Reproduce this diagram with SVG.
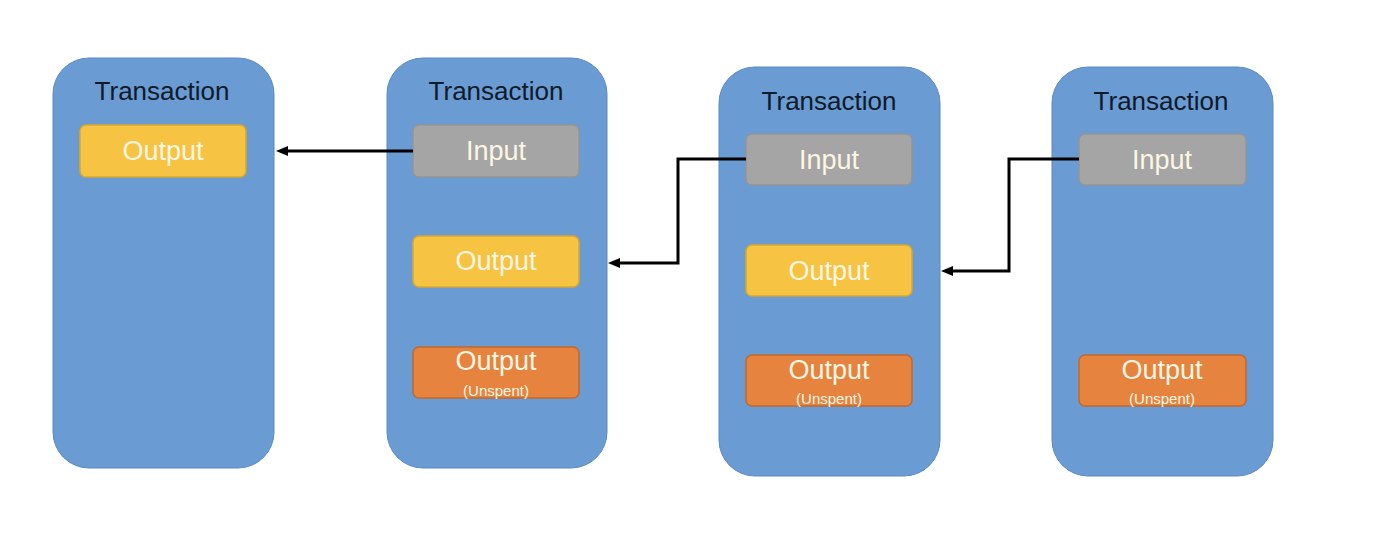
<svg xmlns="http://www.w3.org/2000/svg" width="1388" height="548" viewBox="0 0 1388 548">
<style>
.tx{fill:#6a9bd2;stroke:#5a8ac2;stroke-width:1}
.title{font-family:"Liberation Sans",Arial,sans-serif;font-size:26px;fill:#0f1a2a;text-anchor:middle}
.lbl{font-family:"Liberation Sans",Arial,sans-serif;font-size:27px;fill:#fdf6e3;text-anchor:middle}
.sm{font-family:"Liberation Sans",Arial,sans-serif;font-size:15px;fill:#fdf6e3;text-anchor:middle}
.out{fill:#f6c343;stroke:#d8a82e;stroke-width:1.5}
.inp{fill:#a5a5a5;stroke:#959595;stroke-width:1.5}
.uns{fill:#e5833f;stroke:#c2692c;stroke-width:1.5}
.conn{fill:none;stroke:#000;stroke-width:3;marker-end:url(#ah)}
</style>
<defs>
<marker id="ah" markerWidth="12" markerHeight="10" refX="4" refY="5" orient="auto" markerUnits="userSpaceOnUse">
<path d="M0,0 L12,5 L0,10 Z" fill="#000"/>
</marker>
</defs>
<rect width="1388" height="548" fill="#fff"/>
<g id="tx1">
<rect class="tx" x="53" y="58" width="221" height="410" rx="36"/>
<text class="title" x="162" y="100">Transaction</text>
<rect class="out" x="80" y="125" width="166" height="52" rx="6"/>
<text class="lbl" x="163" y="160">Output</text>
</g>
<g id="tx2">
<rect class="tx" x="387" y="58" width="220" height="410" rx="36"/>
<text class="title" x="496" y="100">Transaction</text>
<rect class="inp" x="413" y="125" width="166" height="52" rx="6"/>
<text class="lbl" x="496" y="160">Input</text>
<rect class="out" x="413" y="236" width="166" height="51" rx="6"/>
<text class="lbl" x="496" y="270">Output</text>
<rect class="uns" x="413" y="347" width="166" height="51" rx="6"/>
<text class="lbl" x="496" y="370">Output</text>
<text class="sm" x="496" y="396">(Unspent)</text>
</g>
<g id="tx3">
<rect class="tx" x="719" y="67" width="221" height="409" rx="36"/>
<text class="title" x="829" y="110">Transaction</text>
<rect class="inp" x="746" y="134" width="166" height="51" rx="6"/>
<text class="lbl" x="829" y="169">Input</text>
<rect class="out" x="746" y="245" width="166" height="51" rx="6"/>
<text class="lbl" x="829" y="280">Output</text>
<rect class="uns" x="746" y="355" width="166" height="51" rx="6"/>
<text class="lbl" x="829" y="379">Output</text>
<text class="sm" x="829" y="404">(Unspent)</text>
</g>
<g id="tx4">
<rect class="tx" x="1052" y="67" width="221" height="409" rx="36"/>
<text class="title" x="1161" y="110">Transaction</text>
<rect class="inp" x="1079" y="134" width="167" height="51" rx="6"/>
<text class="lbl" x="1162" y="169">Input</text>
<rect class="uns" x="1079" y="355" width="167" height="51" rx="6"/>
<text class="lbl" x="1162" y="379">Output</text>
<text class="sm" x="1162" y="404">(Unspent)</text>
</g>
<g id="connectors">
<path class="conn" d="M413,151 L284,151"/>
<path class="conn" d="M746,159 L678,159 L678,263 L616,263"/>
<path class="conn" d="M1079,159 L1009,159 L1009,271 L949,271"/>
</g>
</svg>
